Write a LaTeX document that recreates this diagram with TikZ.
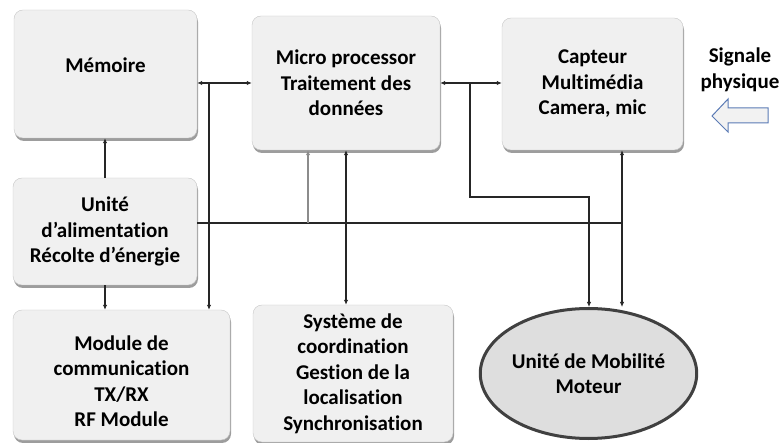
\documentclass[tikz,border=0pt]{standalone}
\usepackage{fontspec}
\setmainfont{Carlito}[Ligatures={NoCommon,NoContextual}]
\usetikzlibrary{arrows.meta,shapes.geometric,shadows}
\definecolor{sigblue}{RGB}{91,123,181}

\begin{document}
\begin{tikzpicture}[x=1pt, y=-1pt, >={Latex[length=5pt,width=4.5pt]},
  every node/.style={font=\fontsize{21}{25.5}\selectfont\bfseries, align=center},
  blk/.style={rectangle, rounded corners=9pt, draw=black!22, fill=black!6, inner sep=0pt,
    drop shadow={shadow xshift=1pt, shadow yshift=-3pt, fill=black!55, opacity=.7}},
  lnk/.style={line width=1.1pt, black!85},
  feed/.style={line width=1.1pt, black!45}]
  \useasboundingbox (0,0) rectangle (779,443);
  % blocks
  \node[blk, minimum width=183pt, minimum height=128pt] (mem) at (105.5,74) {};
  \node (memtxt) at (105.5,65) {Mémoire};
  \node[blk, minimum width=188pt, minimum height=134pt] (mp) at (346,83) {Micro processor\\Traitement des\\données};
  \node[blk, minimum width=181pt, minimum height=132pt] (cap) at (592.5,84) {Capteur\\Multimédia\\Camera, mic};
  \node[blk, minimum width=184pt, minimum height=107pt] (alim) at (105,231.5) {Unité\\d’alimentation\\Récolte d’énergie};
  \node[blk, minimum width=217pt, minimum height=130pt] (mod) at (121.5,375) {};
  \node (modtxt) at (121.5,381) {Module de\\communication\\TX/RX\\RF Module};
  \node[blk, minimum width=200pt, minimum height=137pt] (sys) at (353,373.5) {Système de\\coordination\\Gestion de la\\localisation\\Synchronisation};
  \node[ellipse, draw=black!75, line width=3pt, fill=black!13, minimum width=190pt, minimum height=130pt, inner sep=0pt] (ell) at (588.5,373.5) {Unité de Mobilité\\Moteur};
  % physical signal
  \node (sigtxt) at (740,70) {Signale\\physique};
  \draw[sigblue, line width=1pt, fill=black!5] (768,108) -- (728,108) -- (728,99) -- (712,116)
    -- (728,132) -- (728,123) -- (768,123) -- cycle;
  % junctions
  \coordinate (jm) at (209,83);
  \coordinate (jc) at (470,83);
  \coordinate (jt) at (589,197);
  \coordinate (pw) at (197,223);
  \coordinate (pe) at (622,223);
  \coordinate (pg) at (308,223);
  % data links
  \draw[lnk, <->] (mem.east |- mp.west) -- (mp.west);
  \draw[lnk, ->] (jm) -- (jm |- mod.north);
  \draw[lnk, <->] (mp.east) -- (mp.east -| cap.west);
  \draw[lnk, ->] (jc) |- (jt) -- (jt |- ell.north);
  \draw[lnk, <->] (mp.south) -- (mp.south |- sys.north);
  \draw[lnk, <->] (cap.south -| pe) -- (pe |- ell.north);
  % power links
  \draw[lnk, ->] (alim.north) -- (alim.north |- mem.south);
  \draw[lnk, ->] (alim.south) -- (alim.south |- mod.north);
  \draw[lnk] (pw) -- (pe);
  \draw[feed, ->] (pg) -- (pg |- mp.south);
\end{tikzpicture}
\end{document}
